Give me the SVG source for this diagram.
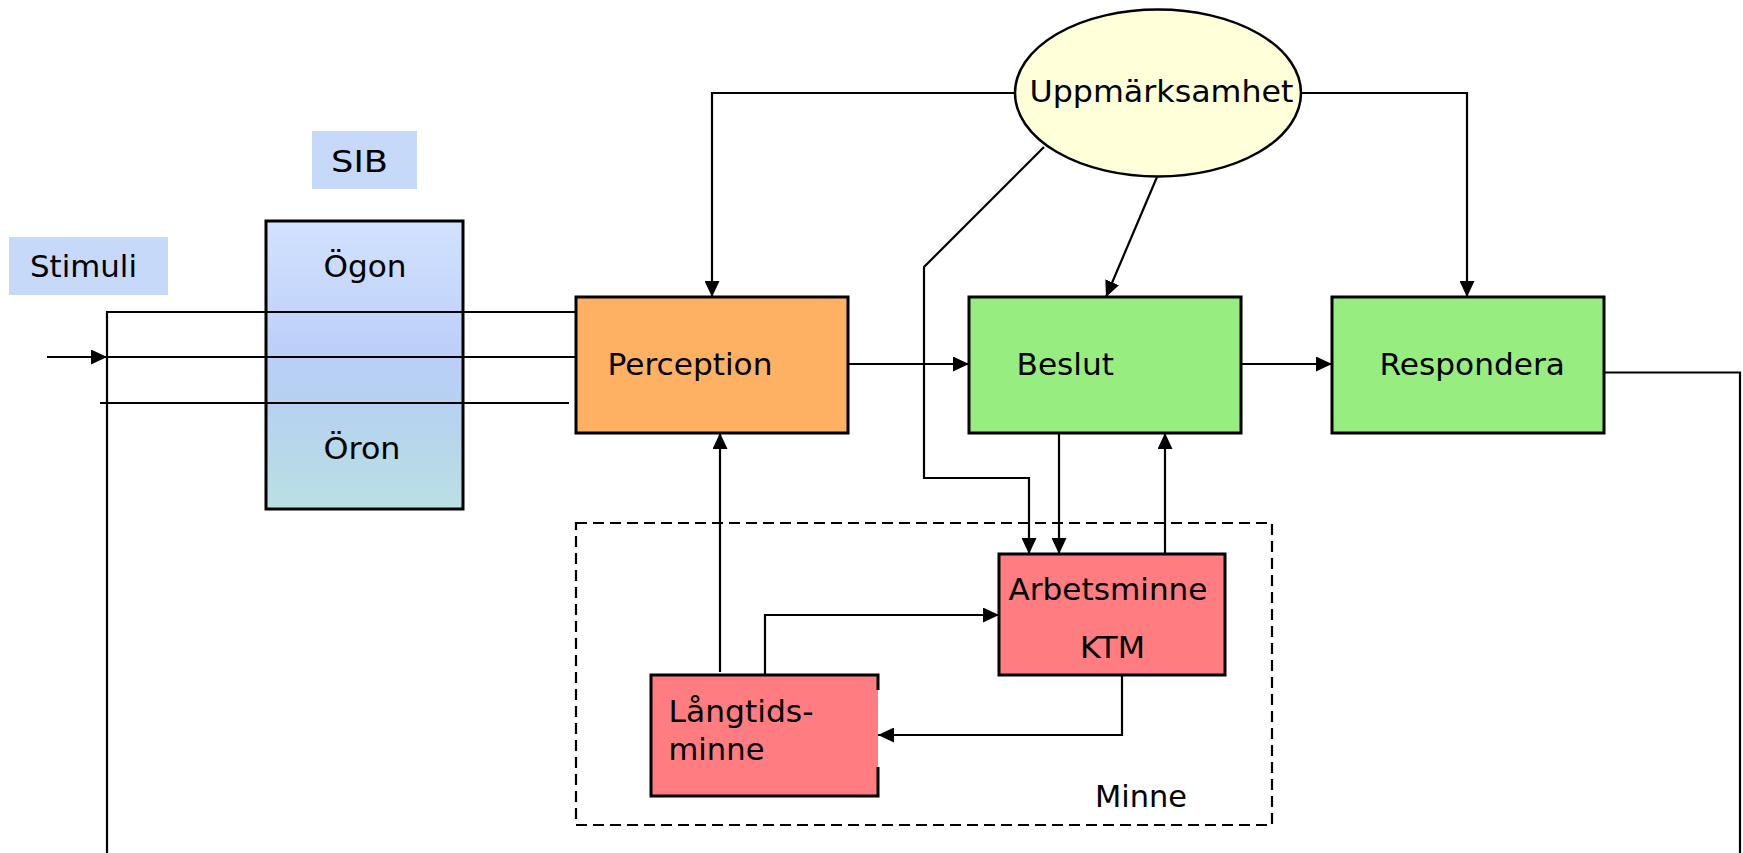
<svg xmlns="http://www.w3.org/2000/svg" width="1743" height="853" viewBox="0 0 1743 853">
<defs>
<linearGradient id="sibGrad" x1="0" y1="0" x2="0" y2="1">
<stop offset="0" stop-color="#d2e2ff"/>
<stop offset="0.45" stop-color="#bccff8"/>
<stop offset="0.6" stop-color="#b6d0f2"/>
<stop offset="1" stop-color="#b9e0e2"/>
</linearGradient>
<marker id="arr" markerUnits="userSpaceOnUse" markerWidth="16" markerHeight="15" refX="16" refY="7.5" orient="auto">
<path d="M0,0 L16,7.5 L0,15 z" fill="#000"/>
</marker>
<style>
text{font-family:"DejaVu Sans","Verdana",sans-serif;font-size:31px;fill:#000}
.box{stroke:#000;stroke-width:3}
.lbl{fill:#c6d9f8}
.c{fill:none;stroke:#000;stroke-width:2.2}
.a{marker-end:url(#arr)}
</style>
</defs>
<rect width="1743" height="853" fill="#fff"/>

<g id="minne-group">
<rect x="576" y="523" width="696" height="302" fill="none" stroke="#000" stroke-width="2.2" stroke-dasharray="11 6"/>
<text x="1095" y="807" textLength="92" lengthAdjust="spacingAndGlyphs">Minne</text>
</g>

<g id="stimuli">
<rect class="lbl" x="9" y="237" width="159" height="58"/>
<text x="30" y="277" textLength="107" lengthAdjust="spacingAndGlyphs">Stimuli</text>
</g>

<g id="sib-label">
<rect class="lbl" x="312" y="131" width="105" height="58"/>
<text x="331" y="172" textLength="57" lengthAdjust="spacingAndGlyphs">SIB</text>
</g>

<g id="sib">
<rect class="box" x="266" y="221" width="197" height="288" fill="url(#sibGrad)"/>
<text x="323.5" y="277" textLength="83" lengthAdjust="spacingAndGlyphs">Ögon</text>
<text x="323.5" y="459" textLength="77" lengthAdjust="spacingAndGlyphs">Öron</text>
</g>

<g id="perception">
<rect class="box" x="576" y="297" width="272" height="136" fill="#ffb163"/>
<text x="607.5" y="375" textLength="165" lengthAdjust="spacingAndGlyphs">Perception</text>
</g>

<g id="beslut">
<rect class="box" x="969" y="297" width="272" height="136" fill="#97ed7f"/>
<text x="1016.5" y="375" textLength="97.5" lengthAdjust="spacingAndGlyphs">Beslut</text>
</g>

<g id="respondera">
<rect class="box" x="1332" y="297" width="272" height="136" fill="#97ed7f"/>
<text x="1379.5" y="375" textLength="185.5" lengthAdjust="spacingAndGlyphs">Respondera</text>
</g>

<g id="uppmarksamhet">
<ellipse cx="1158" cy="93" rx="143" ry="83.5" fill="#ffffda" stroke="#000" stroke-width="2.5"/>
<text x="1029.5" y="102" textLength="264" lengthAdjust="spacingAndGlyphs">Uppmärksamhet</text>
</g>

<g id="arbetsminne">
<rect class="box" x="999" y="554" width="226" height="121" fill="#ff7c80"/>
<text x="1008.5" y="600" textLength="199" lengthAdjust="spacingAndGlyphs">Arbetsminne</text>
<text x="1080" y="658" textLength="65" lengthAdjust="spacingAndGlyphs">KTM</text>
</g>

<g id="langtidsminne">
<rect x="651" y="675" width="227" height="121" fill="#ff7c80"/>
<path d="M878,690 L878,675 L651,675 L651,796 L878,796 L878,767" fill="none" stroke="#000" stroke-width="3"/>
<text x="668.5" y="722" textLength="145" lengthAdjust="spacingAndGlyphs">Långtids-</text>
<text x="668.5" y="760" textLength="96" lengthAdjust="spacingAndGlyphs">minne</text>
</g>

<g id="connectors">
<path class="c a" d="M47,357 L107,357"/>
<path class="c" d="M107,357 L576,357"/>
<path class="c" d="M576,312 L107,312 L107,853"/>
<path class="c" d="M100,403 L569,403"/>
<path class="c a" d="M848,364 L969,364"/>
<path class="c a" d="M1241,364 L1332,364"/>
<path class="c" d="M1604,372.5 L1740,372.5 L1740,853"/>
<path class="c a" d="M1015,93 L712,93 L712,297"/>
<path class="c a" d="M1301,93 L1467,93 L1467,297"/>
<path class="c a" d="M1157,177 L1106,297"/>
<path class="c a" d="M1044,147 L924,267 L924,478 L1029,478 L1029,554"/>
<path class="c a" d="M1059,433 L1059,554"/>
<path class="c a" d="M1165,554 L1165,433"/>
<path class="c a" d="M720,672 L720,433"/>
<path class="c a" d="M765,675 L765,615 L999,615"/>
<path class="c a" d="M1122,675 L1122,735 L878,735"/>
</g>
</svg>
